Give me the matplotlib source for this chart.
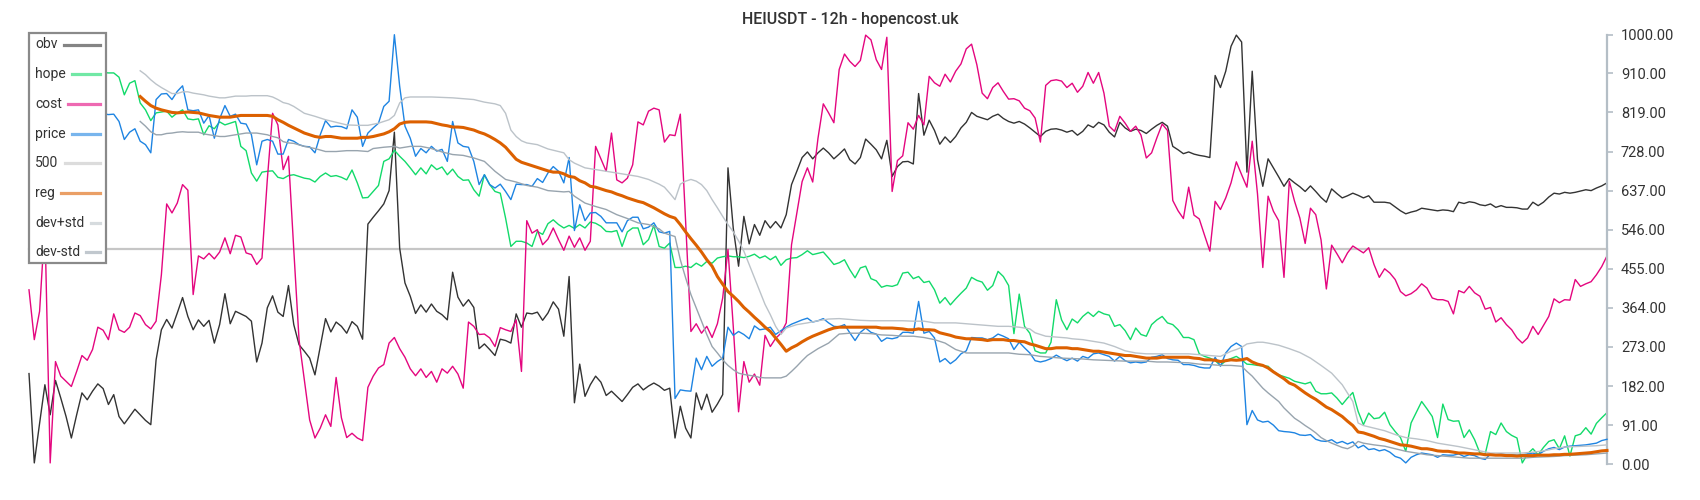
import matplotlib
matplotlib.use("Agg")
import matplotlib.pyplot as plt
import numpy as np
from matplotlib.patches import Rectangle
from matplotlib.lines import Line2D

plt.rcParams['font.family'] = ['Roboto', 'DejaVu Sans']

title = "HEIUSDT - 12h - hopencost.uk"
labels = ["obv", "hope", "cost", "price", "500", "reg", "dev+std", "dev-std"]
yticks = [0, 91, 182, 273, 364, 455, 546, 637, 728, 819, 910, 1000]

obv = [211, 3, 95, 185, 115, 195, 154, 111, 61, 115,
       166, 150, 170, 187, 176, 139, 162, 111, 94, 111,
       128, 115, 102, 92, 243, 313, 337, 317, 352, 388,
       344, 313, 336, 321, 335, 282, 325, 397, 327, 356,
       350, 344, 333, 238, 282, 364, 392, 354, 344, 416,
       325, 278, 263, 247, 208, 274, 339, 308, 331, 321,
       305, 332, 321, 291, 559, 575, 590, 606, 637, 773,
       503, 422, 391, 351, 371, 354, 373, 356, 348, 336,
       447, 389, 368, 383, 365, 269, 280, 267, 253, 291,
       288, 282, 350, 319, 352, 350, 354, 335, 352, 378,
       361, 298, 437, 143, 233, 158, 185, 205, 191, 160,
       170, 158, 146, 162, 179, 187, 173, 182, 189, 182,
       172, 177, 61, 135, 84, 61, 166, 127, 163, 121,
       140, 162, 690, 549, 461, 577, 513, 558, 533, 567,
       550, 565, 550, 581, 651, 682, 714, 727, 711, 725,
       736, 725, 711, 722, 734, 709, 699, 714, 757, 745,
       732, 711, 754, 670, 693, 704, 705, 699, 863, 766,
       801, 777, 745, 762, 749, 763, 783, 796, 819, 810,
       806, 802, 810, 815, 805, 798, 794, 798, 792, 783,
       773, 763, 775, 780, 781, 778, 773, 777, 766, 775,
       790, 784, 796, 790, 773, 762, 796, 783, 775, 780,
       777, 770, 780, 789, 796, 787, 740, 732, 723, 727,
       722, 719, 717, 714, 905, 877, 915, 973, 999, 983,
       680, 915, 709, 647, 711, 690, 669, 647, 665, 655,
       646, 635, 648, 635, 621, 610, 641, 630, 620, 625,
       631, 626, 620, 625, 610, 610, 610, 608, 599, 590,
       583, 587, 590, 596, 594, 592, 590, 592, 591, 588,
       610, 607, 611, 609, 604, 602, 606, 598, 602, 598,
       598, 597, 594, 594, 610, 602, 610, 622, 631, 629,
       633, 631, 633, 636, 639, 637, 643, 648, 655]

hope = [940, 985, 1000, 1000, 960, 940, 930, 915, 905, 915,
        900, 910, 905, 915, 912, 911, 911, 901, 860, 887,
        893, 841, 825, 800, 818, 820, 822, 808, 818, 825,
        804, 802, 804, 767, 788, 781, 797, 790, 794, 798,
        740, 730, 678, 659, 680, 682, 683, 668, 665, 672,
        674, 670, 666, 664, 657, 670, 678, 670, 672, 668,
        662, 685, 655, 620, 621, 635, 649, 705, 711, 731,
        717, 705, 690, 674, 690, 676, 697, 686, 692, 674,
        687, 670, 661, 662, 639, 624, 674, 651, 635, 631,
        573, 507, 519, 519, 515, 507, 542, 535, 560, 569,
        558, 550, 556, 549, 558, 550, 564, 561, 554, 542,
        541, 544, 507, 541, 550, 550, 511, 523, 556, 507,
        503, 515, 458, 458, 461, 458, 468, 461, 472, 468,
        480, 483, 485, 483, 483, 481, 484, 489, 480, 485,
        476, 484, 463, 476, 480, 481, 488, 497, 488, 491,
        494, 480, 465, 469, 476, 453, 434, 457, 461, 432,
        427, 412, 416, 414, 418, 445, 447, 432, 437, 423,
        426, 406, 375, 388, 371, 385, 398, 410, 435, 428,
        424, 405, 416, 449, 437, 416, 304, 396, 321, 305,
        264, 259, 259, 284, 383, 336, 313, 338, 329, 344,
        354, 344, 356, 350, 347, 321, 325, 311, 290, 317,
        302, 298, 325, 336, 344, 329, 325, 313, 295, 295,
        290, 257, 251, 247, 241, 230, 241, 246, 251, 243,
        233, 232, 230, 229, 228, 216, 208, 204, 200, 193,
        190, 187, 191, 170, 164, 164, 166, 154, 139, 154,
        167, 123, 92, 119, 106, 108, 121, 92, 76, 62,
        30, 96, 121, 146, 129, 111, 62, 140, 104, 100,
        101, 62, 80, 57, 26, 24, 76, 69, 96, 76,
        67, 61, 3, 24, 36, 22, 39, 53, 57, 36,
        66, 19, 66, 70, 85, 70, 95, 108, 120]

cost = [406, 290, 356, 560, 3, 239, 205, 193, 181, 216,
        253, 242, 267, 319, 312, 290, 350, 313, 307, 319,
        352, 346, 325, 315, 333, 441, 606, 585, 608, 651,
        638, 395, 485, 478, 491, 478, 494, 527, 490, 533,
        529, 492, 488, 465, 480, 662, 817, 790, 686, 717,
        500, 289, 196, 103, 61, 84, 115, 88, 202, 108,
        62, 72, 61, 55, 179, 205, 224, 232, 282, 295,
        269, 249, 222, 206, 222, 202, 216, 191, 222, 212,
        228, 210, 177, 331, 321, 302, 303, 294, 274, 318,
        313, 309, 336, 216, 567, 538, 546, 511, 524, 550,
        523, 498, 531, 505, 527, 498, 519, 740, 711, 682,
        771, 662, 655, 666, 697, 797, 790, 822, 829, 825,
        750, 767, 765, 815, 565, 309, 327, 305, 321, 295,
        327, 387, 500, 320, 122, 239, 191, 210, 184, 300,
        274, 293, 305, 329, 511, 585, 658, 690, 657, 759,
        839, 818, 795, 919, 955, 938, 926, 940, 999, 988,
        942, 919, 994, 635, 707, 718, 795, 780, 812, 790,
        903, 888, 880, 908, 890, 915, 932, 967, 978, 930,
        864, 851, 877, 888, 868, 850, 851, 846, 829, 823,
        806, 750, 882, 893, 895, 892, 877, 887, 866, 880,
        912, 887, 912, 864, 787, 775, 810, 794, 775, 787,
        766, 713, 725, 760, 792, 777, 614, 590, 572, 645,
        580, 571, 533, 496, 612, 593, 620, 655, 704, 674,
        645, 752, 629, 458, 624, 589, 567, 435, 659, 612,
        573, 514, 596, 581, 522, 408, 510, 490, 469, 492,
        508, 500, 492, 504, 465, 435, 455, 445, 430, 402,
        392, 397, 406, 420, 410, 387, 383, 383, 379, 350,
        404, 399, 414, 399, 391, 361, 365, 331, 341, 325,
        313, 294, 282, 294, 321, 302, 323, 344, 385, 376,
        383, 382, 430, 414, 420, 425, 441, 460, 485]

price = [810, 805, 815, 822, 812, 820, 810, 806, 818, 812,
         822, 815, 808, 812, 816, 814, 815, 798, 756, 773,
         781, 752, 744, 725, 849, 862, 863, 849, 868, 881,
         825, 823, 825, 794, 812, 759, 804, 835, 810, 815,
         794, 792, 767, 697, 752, 756, 752, 722, 722, 756,
         752, 744, 740, 739, 725, 767, 800, 785, 787, 786,
         781, 825, 808, 740, 771, 783, 794, 833, 845, 1000,
         880, 787, 759, 717, 735, 725, 740, 729, 733, 705,
         798, 748, 740, 738, 705, 651, 674, 651, 643, 652,
         635, 616, 652, 651, 651, 647, 665, 656, 678, 693,
         682, 655, 714, 544, 604, 567, 585, 586, 577, 562,
         562, 562, 541, 567, 575, 575, 548, 552, 562, 541,
         538, 542, 153, 173, 171, 170, 247, 220, 251, 228,
         239, 247, 319, 300, 309, 302, 292, 322, 313, 315,
         319, 302, 311, 319, 326, 331, 336, 340, 331, 334,
         339, 329, 321, 320, 325, 306, 288, 307, 317, 307,
         303, 286, 294, 292, 295, 307, 307, 305, 379, 305,
         309, 294, 238, 246, 234, 243, 257, 264, 295, 294,
         294, 290, 294, 303, 298, 292, 267, 284, 271, 259,
         241, 238, 241, 246, 254, 247, 241, 247, 240, 251,
         247, 257, 259, 255, 251, 240, 251, 241, 236, 238,
         236, 238, 249, 251, 255, 246, 243, 242, 232, 232,
         230, 226, 224, 224, 249, 228, 259, 274, 282, 274,
         92, 125, 103, 98, 100, 91, 78, 76, 75, 73,
         68, 67, 69, 58, 54, 53, 57, 49, 53, 47,
         52, 38, 44, 34, 36, 31, 34, 28, 18, 14,
         3, 16, 22, 26, 24, 22, 16, 22, 21, 21,
         24, 18, 22, 20, 14, 11, 24, 22, 24, 22,
         22, 21, 22, 24, 26, 22, 30, 36, 39, 34,
         40, 42, 43, 44, 45, 47, 49, 55, 58]

level = 500

reg_start = 21
reg = [856, 845, 835, 829, 825, 822, 819, 818, 819,
       820, 819, 818, 815, 812, 810, 808, 808, 808, 810,
       812, 812, 812, 812, 812, 812, 810, 802, 796, 789,
       783, 777, 771, 767, 763, 761, 763, 763, 761, 759,
       759, 759, 759, 761, 761, 763, 766, 769, 774, 781,
       792, 796, 797, 797, 797, 797, 796, 793, 790, 788,
       785, 785, 784, 781, 778, 773, 769, 763, 756, 748,
       738, 724, 710, 703, 699, 695, 691, 687, 683, 680,
       680, 676, 670, 668, 660, 655, 647, 645, 641, 637,
       634, 629, 625, 620, 616, 612, 609, 603, 597, 590,
       583, 577, 573, 558, 541, 525, 510, 494, 476, 461,
       437, 419, 402, 391, 379, 365, 354, 342, 331, 319,
       309, 294, 279, 263, 271, 277, 285, 292, 298, 303,
       308, 313, 317, 319, 319, 319, 319, 319, 319, 319,
       319, 317, 317, 317, 316, 315, 313, 313, 315, 313,
       313, 312, 306, 303, 300, 296, 294, 292, 292, 291,
       290, 288, 290, 290, 290, 288, 288, 286, 285, 280,
       277, 273, 269, 269, 271, 271, 271, 269, 269, 267,
       265, 263, 263, 261, 259, 257, 255, 253, 253, 251,
       249, 247, 247, 247, 249, 249, 249, 249, 249, 249,
       247, 246, 243, 243, 242, 239, 241, 243, 242, 243,
       246, 238, 233, 230, 224, 215, 207, 199, 189, 184,
       175, 166, 158, 151, 142, 133, 127, 119, 111, 100,
       90, 75, 73, 69, 65, 60, 57, 53, 49, 45,
       44, 42, 39, 36, 36, 34, 31, 30, 30, 28,
       26, 26, 25, 24, 24, 22, 22, 21, 21, 20,
       20, 19, 20, 20, 20, 21, 21, 21, 22, 22,
       23, 23, 24, 25, 26, 27, 29, 31, 32]

up_idx = [21, 22, 23, 24, 25, 26, 27, 28, 29, 30, 31, 32, 33, 34, 35, 36, 37, 38, 39, 40,
          41, 42, 43, 44, 45, 46, 47, 48, 49, 50, 52, 54, 56, 58, 60, 62, 64, 66, 68, 69,
          70, 71, 72, 74, 76, 78, 80, 82, 84, 86, 88, 89, 90, 91, 92, 93, 94, 96, 98, 100,
          101, 102, 103, 105, 107, 109, 111, 113, 115, 117, 119, 120, 121, 122, 123, 124, 125, 126, 127, 128,
          129, 130, 131, 132, 133, 134, 135, 136, 137, 138, 139, 140, 141, 142, 143, 144, 145, 146, 147, 149,
          151, 153, 155, 157, 159, 161, 163, 165, 167, 169, 171, 173, 175, 177, 179, 181, 183, 185, 187, 189,
          190, 191, 192, 194, 196, 197, 199, 201, 203, 205, 207, 209, 211, 213, 215, 217, 219, 221, 223, 225,
          226, 227, 228, 229, 230, 231, 232, 233, 234, 236, 238, 240, 242, 244, 246, 248, 250, 251, 252, 254,
          256, 258, 260, 262, 264, 266, 268, 270, 272, 274, 276, 278, 280, 282, 284, 286, 288, 290, 292, 294,
          296, 298]
dev_up = [916, 907, 895, 885, 877, 870, 863, 863, 867, 867, 864, 862, 860, 857, 855, 853, 853, 855, 857, 857,
          857, 858, 858, 858, 858, 855, 849, 842, 839, 833, 817, 810, 802, 796, 790, 789, 789, 794, 802, 812,
          841, 853, 855, 855, 855, 854, 853, 851, 849, 843, 839, 835, 817, 778, 763, 753, 748, 744, 734, 728,
          725, 709, 701, 690, 686, 682, 678, 674, 670, 663, 652, 645, 631, 616, 652, 659, 663, 659, 651, 637,
          616, 597, 577, 558, 541, 520, 496, 465, 434, 403, 372, 348, 321, 302, 317, 321, 325, 327, 329, 334,
          338, 339, 337, 335, 334, 334, 334, 334, 333, 333, 329, 329, 329, 327, 325, 323, 321, 321, 319, 315,
          306, 302, 298, 296, 294, 292, 290, 286, 282, 274, 264, 259, 257, 257, 257, 257, 257, 255, 253, 251,
          257, 263, 267, 272, 280, 282, 284, 284, 282, 277, 269, 260, 247, 230, 212, 185, 146, 96, 90, 84,
          78, 69, 62, 59, 55, 49, 45, 41, 36, 31, 26, 26, 26, 26, 28, 31, 36, 40, 41, 42,
          43, 45]

lo_idx = [21, 22, 23, 24, 25, 26, 27, 28, 29, 30, 31, 32, 33, 34, 35, 36, 37, 38, 39, 40,
          41, 42, 43, 44, 45, 46, 47, 48, 49, 50, 52, 54, 56, 58, 60, 62, 64, 65, 67, 69,
          70, 71, 72, 74, 76, 78, 80, 82, 84, 86, 88, 90, 92, 94, 96, 98, 100, 101, 102, 103,
          105, 107, 109, 111, 113, 115, 117, 119, 120, 121, 122, 123, 124, 125, 126, 127, 128, 129, 130, 131,
          132, 133, 134, 135, 136, 137, 138, 139, 140, 141, 142, 143, 144, 145, 146, 147, 149, 151, 153, 155,
          157, 159, 161, 163, 165, 167, 169, 171, 173, 175, 177, 179, 181, 183, 185, 187, 189, 191, 193, 195,
          197, 199, 201, 203, 205, 207, 209, 211, 213, 215, 217, 219, 221, 223, 225, 227, 229, 230, 231, 232,
          233, 234, 235, 236, 237, 238, 239, 240, 241, 242, 243, 244, 245, 246, 248, 249, 250, 251, 252, 254,
          256, 258, 260, 262, 264, 266, 268, 270, 272, 274, 276, 278, 280, 282, 284, 286, 288, 290, 292, 294,
          296, 298]
dev_lo = [798, 787, 774, 767, 767, 770, 771, 773, 774, 773, 773, 773, 769, 767, 765, 763, 763, 765, 767, 769,
          771, 771, 771, 769, 767, 763, 760, 751, 748, 747, 740, 735, 728, 728, 730, 730, 728, 735, 738, 740,
          736, 738, 740, 740, 735, 727, 721, 719, 713, 705, 682, 663, 657, 649, 645, 637, 635, 634, 635, 624,
          608, 600, 593, 581, 572, 562, 558, 548, 538, 534, 530, 476, 434, 395, 364, 333, 302, 274, 259, 243,
          230, 220, 212, 209, 207, 205, 202, 201, 201, 201, 201, 205, 216, 228, 241, 253, 269, 282, 303, 305,
          305, 304, 301, 300, 298, 298, 295, 290, 282, 267, 259, 259, 259, 259, 259, 256, 255, 251, 249, 247,
          246, 245, 243, 242, 241, 240, 240, 240, 238, 238, 237, 236, 233, 232, 230, 230, 228, 216, 205, 191,
          177, 166, 156, 146, 131, 119, 107, 99, 90, 82, 73, 62, 55, 49, 39, 36, 42, 53, 49, 45,
          42, 36, 30, 26, 22, 20, 18, 16, 14, 14, 14, 14, 14, 14, 16, 17, 18, 20, 21, 22,
          24, 26]

colors = {
    "obv": "#333333",
    "hope": "#12da6a",
    "cost": "#e4067f",
    "price": "#1e84e2",
    "500": "#c6c6c6",
    "reg": "#dc6000",
    "dev+std": "#bcc3c9",
    "dev-std": "#98a4ae",
}
widths = {"obv": 1.0, "hope": 1.0, "cost": 1.0, "price": 1.0, "500": 1.6,
          "reg": 2.2, "dev+std": 1.0, "dev-std": 1.0}

W, H = 1700, 500
fig = plt.figure(figsize=(W / 100, H / 100), dpi=100)
fig.patch.set_facecolor("white")
ax = fig.add_axes([29 / W, (H - 464.2) / H, (1607 - 29) / W, (464.2 - 34.7) / H])

n = len(obv)
x = np.arange(n)
ax.plot(x, obv, color=colors["obv"], lw=widths["obv"], clip_on=False, zorder=2)
ax.plot(x, hope, color=colors["hope"], lw=widths["hope"], clip_on=False, zorder=2)
ax.plot(x, cost, color=colors["cost"], lw=widths["cost"], clip_on=False, zorder=2)
ax.plot(x, price, color=colors["price"], lw=widths["price"], clip_on=False, zorder=3)
ax.plot([0, n - 1], [level, level], color=colors["500"], lw=widths["500"], clip_on=False, zorder=1)
ax.plot(up_idx, dev_up, color=colors["dev+std"], lw=widths["dev+std"], clip_on=False, zorder=3)
ax.plot(lo_idx, dev_lo, color=colors["dev-std"], lw=widths["dev-std"], clip_on=False, zorder=3)
ax.plot(np.arange(reg_start, reg_start + len(reg)), reg, color=colors["reg"],
        lw=widths["reg"], clip_on=False, zorder=4, solid_joinstyle="round")

ax.set_xlim(0, n - 1)
ax.set_ylim(0, 1000)
for s in ["left", "top", "bottom"]:
    ax.spines[s].set_visible(False)
ax.spines["right"].set_color("#b4bec6")
ax.spines["right"].set_linewidth(1.6)
ax.set_xticks([])
ax.yaxis.tick_right()
ax.set_yticks(yticks)
ax.set_yticklabels([f"{v:.2f}" for v in yticks])
ax.tick_params(axis="y", length=4, width=1.2, color="#b4bec6", labelsize=10.5,
               labelcolor="#333333", pad=6)
ax.patch.set_alpha(0)

fig.text(0.5, 1 - 19.5 / H, title, ha="center", va="center", fontsize=11.5,
         fontweight="medium", color="#333333")

# legend box (drawn as figure artists)
lx0, ly0, lx1, ly1 = 29.3, 32.8, 106.0, 263.0
rect = Rectangle((lx0 / W, 1 - ly1 / H), (lx1 - lx0) / W, (ly1 - ly0) / H,
                 transform=fig.transFigure, facecolor="white", edgecolor="#8a8a8a",
                 lw=1.6, zorder=20)
fig.add_artist(rect)
renderer = fig.canvas.get_renderer()
row_y0, row_dy = 44.5, 29.7
for k, lab in enumerate(labels):
    yy = row_y0 + k * row_dy
    t = fig.text(35.3 / W, 1 - yy / H, lab, ha="left", va="center", fontsize=10,
                 color="#333333", zorder=21)
    bb = t.get_window_extent(renderer)
    xs = (bb.x1 + 6.0) / W
    xe = 100.3 / W
    ln = Line2D([xs, xe], [1 - yy / H, 1 - yy / H], transform=fig.transFigure,
                color=colors[lab], lw=2.3, alpha=0.6, zorder=21)
    fig.add_artist(ln)

fig.savefig("out.png", dpi=100, facecolor="white")
